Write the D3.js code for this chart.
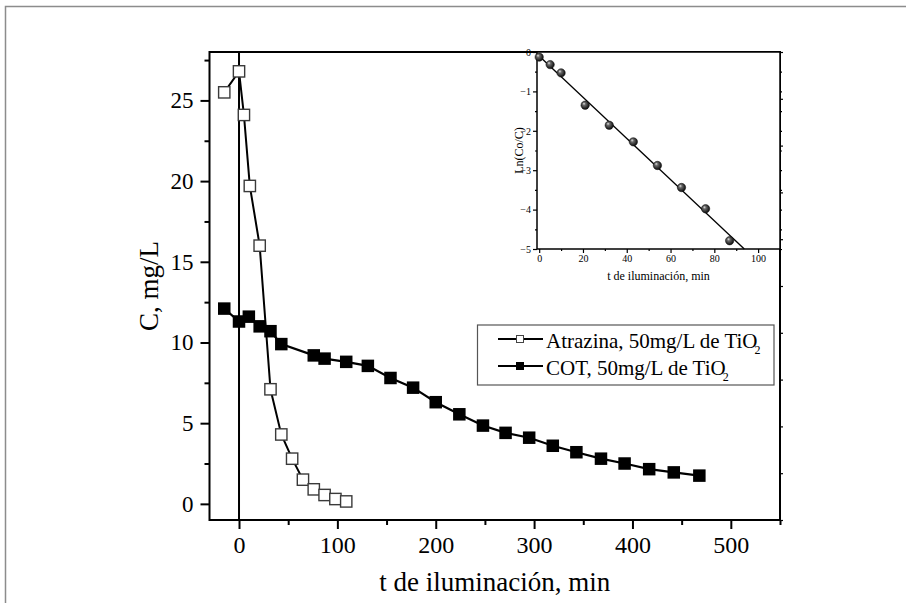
<!DOCTYPE html>
<html>
<head>
<meta charset="utf-8">
<script src="https://cdn.jsdelivr.net/npm/d3@7/dist/d3.min.js"></script>
<style>
body { margin: 0; background: #fff; }
svg { display: block; font-family: "Liberation Serif", "Times New Roman", serif; }
</style>
</head>
<body>
<svg id="drawing_region"></svg>
<script>
// main chart: atrazine (open squares) and TOC (filled squares)
const atrTime = [-15, 0, 5, 11, 21, 32, 43, 54, 65, 76, 87, 98, 109];
const atrConc = [25.5, 26.8, 24.1, 19.7, 16.0, 7.1, 4.3, 2.8, 1.5, 0.9, 0.55, 0.3, 0.15];
const cotTime = [-15, 0, 10, 21, 32, 43, 76, 87, 109, 131, 154, 177, 200, 224, 248, 271, 295, 319, 343, 368, 392, 417, 442, 468];
const cotConc = [12.1, 11.3, 11.6, 11.0, 10.7, 9.9, 9.2, 9.0, 8.8, 8.55, 7.8, 7.2, 6.3, 5.55, 4.85, 4.4, 4.1, 3.6, 3.2, 2.8, 2.5, 2.15, 1.95, 1.75];

// inset: ln(Co/C) vs time with linear fit
const insetTime = [0, 5, 10, 21, 32, 43, 54, 65, 76, 87];
const insetLn = [-0.13, -0.32, -0.53, -1.35, -1.86, -2.28, -2.88, -3.44, -3.98, -4.79];
const fitTime = [-1, 93.7];
const fitLn = [-0.05, -5];

const xMajor = [0, 100, 200, 300, 400, 500];
const xMinor = [50, 150, 250, 350, 450, 550];
const yMajor = [0, 5, 10, 15, 20, 25];
const yMinor = [2.5, 7.5, 12.5, 17.5, 22.5, 27.5];
const insetXMajor = [0, 20, 40, 60, 80, 100];
const insetXMinor = [10, 30, 50, 70, 90, 110];
const insetYMajor = [-5, -4, -3, -2, -1, 0];
const insetYMinor = [-4.5, -3.5, -2.5, -1.5, -0.5];

const legendLabels = ['Atrazina, 50mg/L de TiO', 'COT, 50mg/L de TiO'];

const atrData = atrTime.map((t, i) => ({ x: t, y: atrConc[i] }));
const cotData = cotTime.map((t, i) => ({ x: t, y: cotConc[i] }));
const insetData = insetTime.map((t, i) => ({ x: t, y: insetLn[i] }));
const fitData = fitTime.map((t, i) => ({ x: t, y: fitLn[i] }));

const config = {
    width: 906,
    height: 603,
    margin: { top: 52, right: 126, bottom: 83, left: 209.5 }
};

const svg = d3.select('#drawing_region')
    .attr('width', config.width)
    .attr('height', config.height);

// outer grey frame (open to the right and bottom)
svg.append('rect')
    .attr('x', 5.5).attr('y', 6.5)
    .attr('width', config.width + 20).attr('height', config.height + 20)
    .attr('fill', 'none')
    .attr('stroke', '#8c8c8c')
    .attr('stroke-width', 1.5);

const inner_width = config.width - config.margin.left - config.margin.right;
const inner_height = config.height - config.margin.top - config.margin.bottom;

const chart = svg.append('g')
    .attr('transform', `translate(${config.margin.left}, ${config.margin.top})`);

const xscale = d3.scaleLinear().domain([-30, 550]).range([0, inner_width]);
const yscale = d3.scaleLinear().domain([-1, 28]).range([inner_height, 0]);
const rightscale = d3.scaleLinear().domain([0, 10]).range([inner_height, 0]);

function styleAxis(g, size) {
    g.select('.domain').remove();
    g.selectAll('line').attr('stroke', '#000').attr('stroke-width', 2);
    g.selectAll('text')
        .style('font-family', '"Liberation Serif", "Times New Roman", serif')
        .style('font-size', size + 'px')
        .attr('fill', '#000');
}

// axes
chart.append('g')
    .attr('transform', `translate(0, ${inner_height})`)
    .call(d3.axisBottom(xscale).tickValues(xMajor).tickSize(9).tickPadding(7).tickSizeOuter(0).tickFormat(d3.format('d')))
    .call(g => styleAxis(g, 24));
chart.append('g')
    .attr('transform', `translate(0, ${inner_height})`)
    .call(d3.axisBottom(xscale).tickValues(xMinor).tickSize(5).tickSizeOuter(0).tickFormat(''))
    .call(g => styleAxis(g, 24));
chart.append('g')
    .call(d3.axisLeft(yscale).tickValues(yMajor).tickSize(9).tickPadding(7).tickSizeOuter(0).tickFormat(d3.format('d')))
    .call(g => styleAxis(g, 23));
chart.append('g')
    .call(d3.axisLeft(yscale).tickValues(yMinor).tickSize(5).tickSizeOuter(0).tickFormat(''))
    .call(g => styleAxis(g, 23));
chart.append('g')
    .attr('transform', `translate(${inner_width}, 0)`)
    .call(d3.axisRight(rightscale).ticks(10).tickSize(3).tickSizeOuter(0).tickFormat(''))
    .call(g => { styleAxis(g, 10); g.selectAll('line').attr('stroke-width', 1.2); });

// vertical line at t = 0
chart.append('line')
    .attr('x1', xscale(0)).attr('x2', xscale(0))
    .attr('y1', 0).attr('y2', inner_height)
    .attr('stroke', '#000').attr('stroke-width', 2);

const line = d3.line()
    .x(d => xscale(d.x))
    .y(d => yscale(d.y));

chart.append('path')
    .attr('d', line(cotData))
    .attr('fill', 'none').attr('stroke', '#000').attr('stroke-width', 2.2);

const sq = 12.5;
chart.selectAll('.cot')
    .data(cotData)
    .enter()
    .append('rect')
    .attr('class', 'cot')
    .attr('x', d => xscale(d.x) - sq / 2)
    .attr('y', d => yscale(d.y) - sq / 2)
    .attr('width', sq).attr('height', sq)
    .attr('fill', '#000');

chart.append('path')
    .attr('d', line(atrData))
    .attr('fill', 'none').attr('stroke', '#000').attr('stroke-width', 2);

chart.selectAll('.atr')
    .data(atrData)
    .enter()
    .append('rect')
    .attr('class', 'atr')
    .attr('x', d => xscale(d.x) - sq / 2 + 0.6)
    .attr('y', d => yscale(d.y) - sq / 2 + 0.6)
    .attr('width', sq - 1.2).attr('height', sq - 1.2)
    .attr('fill', '#fff')
    .attr('stroke', '#3a3a3a').attr('stroke-width', 1.4);

// plot frame
chart.append('rect')
    .attr('width', inner_width).attr('height', inner_height)
    .attr('fill', 'none').attr('stroke', '#000').attr('stroke-width', 2);

// axis titles
chart.append('text')
    .attr('x', inner_width / 2)
    .attr('y', inner_height + 71)
    .attr('text-anchor', 'middle')
    .attr('font-size', '27px')
    .text('t de iluminación, min');

chart.append('text')
    .attr('transform', `translate(-52, ${inner_height / 2}) rotate(-90)`)
    .attr('text-anchor', 'middle')
    .attr('font-size', '27px')
    .text('C, mg/L');

// legend
const legend = svg.append('g');
legend.append('rect')
    .attr('x', 477.5).attr('y', 325)
    .attr('width', 296.5).attr('height', 60)
    .attr('fill', '#fff')
    .attr('stroke', '#555').attr('stroke-width', 1.2);

legendLabels.forEach((lab, i) => {
    const ly = 339 + i * 27;
    const row = legend.append('g');
    row.append('line')
        .attr('x1', 498).attr('x2', 543)
        .attr('y1', ly).attr('y2', ly)
        .attr('stroke', '#000').attr('stroke-width', 2.2);
    row.append('rect')
        .attr('x', 516.5).attr('y', ly - 3.5)
        .attr('width', 7).attr('height', 7)
        .attr('fill', i === 0 ? '#fff' : '#000')
        .attr('stroke', i === 0 ? '#444' : '#000').attr('stroke-width', 1);
    const t = row.append('text')
        .attr('x', 546).attr('y', ly + 9)
        .attr('font-size', '21px');
    t.append('tspan').text(lab);
    t.append('tspan').attr('dx', -3).attr('dy', 6).attr('font-size', '12px').text('2');
});

// inset
const inset = {
    left: 537, top: 52, right: 780, bottom: 249
};
const iw = inset.right - inset.left;
const ih = inset.bottom - inset.top;
const ig = svg.append('g').attr('transform', `translate(${inset.left}, ${inset.top})`);

const ixscale = d3.scaleLinear().domain([-1, 110]).range([0, iw]);
const iyscale = d3.scaleLinear().domain([-5, 0]).range([ih, 0]);

ig.append('rect')
    .attr('width', iw).attr('height', ih)
    .attr('fill', '#fff');

function styleInset(g) {
    g.select('.domain').remove();
    g.selectAll('line').attr('stroke', '#000').attr('stroke-width', 1.2);
    g.selectAll('text')
        .style('font-family', '"Liberation Serif", "Times New Roman", serif')
        .style('font-size', '10px')
        .attr('fill', '#000');
}

ig.append('g')
    .attr('transform', `translate(0, ${ih})`)
    .call(d3.axisBottom(ixscale).tickValues(insetXMajor).tickSize(4).tickPadding(2).tickSizeOuter(0).tickFormat(d3.format('d')))
    .call(styleInset);
ig.append('g')
    .attr('transform', `translate(0, ${ih})`)
    .call(d3.axisBottom(ixscale).tickValues(insetXMinor).tickSize(2).tickSizeOuter(0).tickFormat(''))
    .call(styleInset);
ig.append('g')
    .call(d3.axisLeft(iyscale).tickValues(insetYMajor).tickSize(4).tickPadding(2).tickSizeOuter(0).tickFormat(d3.format('d')))
    .call(styleInset);
ig.append('g')
    .call(d3.axisLeft(iyscale).tickValues(insetYMinor).tickSize(2).tickSizeOuter(0).tickFormat(''))
    .call(styleInset);
ig.append('g')
    .attr('transform', `translate(${iw}, 0)`)
    .call(d3.axisRight(iyscale).tickValues(insetYMajor.concat(insetYMinor)).tickSize(2).tickSizeOuter(0).tickFormat(''))
    .call(styleInset);

ig.append('rect')
    .attr('width', iw).attr('height', ih)
    .attr('fill', 'none').attr('stroke', '#000').attr('stroke-width', 1.5);

// fitted line
const iline = d3.line()
    .x(d => ixscale(d.x))
    .y(d => iyscale(d.y));
ig.append('path')
    .attr('d', iline(fitData))
    .attr('fill', 'none').attr('stroke', '#000').attr('stroke-width', 1.3);

// shaded sphere markers
const grad = svg.append('defs').append('radialGradient')
    .attr('id', 'ball')
    .attr('cx', '45%').attr('cy', '45%').attr('r', '60%')
    .attr('fx', '35%').attr('fy', '30%');
grad.append('stop').attr('offset', '0%').attr('stop-color', '#e8e8e8');
grad.append('stop').attr('offset', '30%').attr('stop-color', '#6a6a6a');
grad.append('stop').attr('offset', '100%').attr('stop-color', '#000');

ig.selectAll('circle')
    .data(insetData)
    .enter()
    .append('circle')
    .attr('cx', d => ixscale(d.x))
    .attr('cy', d => iyscale(d.y))
    .attr('r', 4.2)
    .attr('fill', 'url(#ball)')
    .attr('stroke', '#111').attr('stroke-width', 0.5);

ig.append('text')
    .attr('x', iw / 2)
    .attr('y', ih + 31)
    .attr('text-anchor', 'middle')
    .attr('font-size', '12px')
    .text('t de iluminación, min');

ig.append('text')
    .attr('transform', `translate(-14, ${ih / 2}) rotate(-90)`)
    .attr('text-anchor', 'middle')
    .attr('font-size', '12px')
    .text('Ln(Co/C)');
</script>
</body>
</html>
